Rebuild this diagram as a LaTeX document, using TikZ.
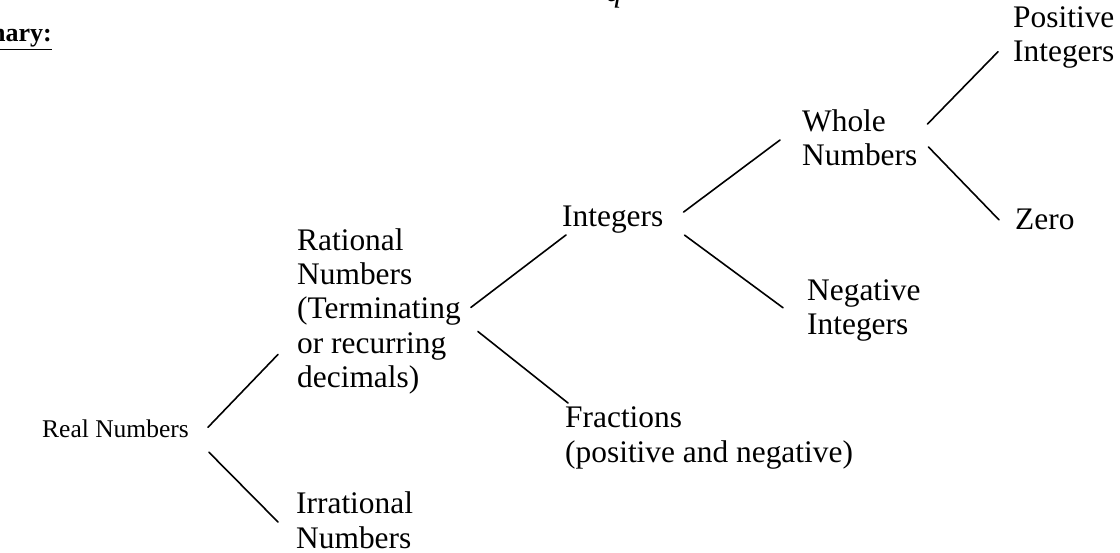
\documentclass[tikz,border=0pt]{standalone}
\usepackage{fontspec}
\setmainfont{Liberation Serif}
\usetikzlibrary{calc}
\tikzset{
  lbl/.style={inner sep=0pt, align=left, anchor=base west, font=\fontsize{31.4}{34.5}\selectfont},
  root/.style={inner sep=0pt, anchor=base west, font=\fontsize{25.5}{30}\selectfont},
  branch/.style={line width=1.6pt, line cap=round},
}
\begin{document}
\begin{tikzpicture}[x=1pt,y=-1pt]
  \useasboundingbox (0,0) rectangle (1120,553);
  % heading and formula, cut by the page edge
  \node[inner sep=0pt, anchor=base east, font=\fontsize{26}{30}\selectfont\bfseries] (head) at (52,42) {\underline{nary:}};
  \node[inner sep=0pt, anchor=base, font=\fontsize{31.4}{34.5}\selectfont\itshape] (qq) at (614,2) {q};
  % the tree (base = last line)
  \node[root] (real) at (42,438) {Real Numbers};
  \node[lbl] (rat) at (297,388) {Rational\\Numbers\\(Terminating\\or recurring\\decimals)};
  \node[lbl] (irr) at (296,548) {Irrational\\Numbers};
  \node[lbl] (int) at (562,227) {Integers};
  \node[lbl] (frac) at (565,462) {Fractions\\(positive and negative)};
  \node[lbl] (whole) at (802,166) {Whole\\Numbers};
  \node[lbl] (neg) at (807,335) {Negative\\Integers};
  \node[lbl] (pos) at (1013,62) {Positive\\Integers};
  \node[lbl] (zero) at (1015,230) {Zero};
  \draw[branch] ($(real.east)+(19,-2)$) -- ($(rat.west)+(-19,43)$);
  \draw[branch] ($(real.east)+(20,23)$) -- ($(irr.west)+(-18,2)$);
  \draw[branch] ($(rat.east)+(10,-4)$) -- ($(int.south west)+(4,1)$);
  \draw[branch] ($(rat.east)+(17,20)$) -- ($(frac.north west)+(3,-3.5)$);
  \draw[branch] ($(int.east)+(20,-8)$) -- ($(whole.west)+(-22,2)$);
  \draw[branch] ($(int.east)+(21,15)$) -- ($(neg.west)+(-24,-3)$);
  \draw[branch] ($(whole.east)+(10,-14)$) -- ($(pos.west)+(-15,14)$);
  \draw[branch] ($(whole.east)+(11,9)$) -- ($(zero.west)+(-16,0)$);
\end{tikzpicture}
\end{document}
